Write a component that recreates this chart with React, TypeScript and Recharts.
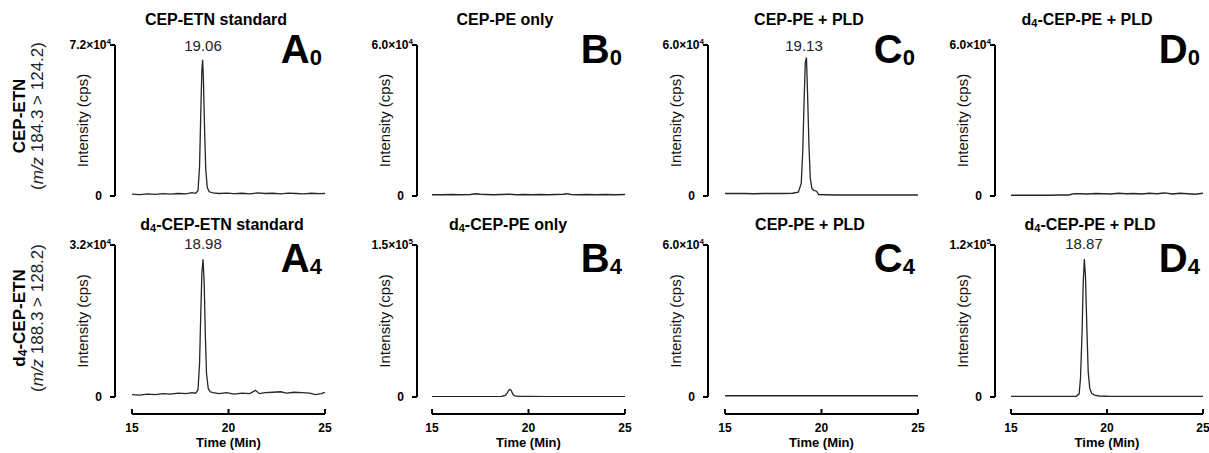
import React from 'react';
import { LineChart, Line, XAxis, YAxis } from 'recharts';

const FONT = '"Liberation Sans", Arial, Helvetica, sans-serif';

// ---- shared axis values ----
const timeDomain: [number, number] = [15, 25];
const timeTicks = [15, 20, 25];

// ---- A0: CEP-ETN standard, CEP-ETN channel ----
const a0Time = [15.0, 15.4, 15.8, 16.2, 16.6, 17.0, 17.4, 17.8, 18.1, 18.3, 18.42, 18.5, 18.56, 18.62, 18.66, 18.7, 18.76, 18.82, 18.9, 19.0, 19.2, 19.5, 19.9, 20.3, 20.7, 21.1, 21.5, 21.9, 22.3, 22.7, 23.1, 23.5, 23.9, 24.3, 24.7, 25.0];
const a0Cps = [900, 700, 1000, 800, 1100, 900, 1200, 1000, 1600, 1300, 2500, 14000, 38000, 60000, 65000, 56000, 32000, 13000, 4000, 2000, 1500, 1200, 1400, 1100, 1300, 1000, 1500, 1200, 1300, 1000, 1400, 1200, 1000, 1300, 1100, 1200];
const a0Max = 72000;

// ---- B0: CEP-PE only ----
const b0Time = [15.0, 15.5, 16.0, 16.5, 17.0, 17.3, 17.5, 17.8, 18.2, 18.6, 19.0, 19.4, 19.8, 20.2, 20.6, 21.0, 21.4, 21.8, 22.0, 22.2, 22.6, 23.0, 23.5, 24.0, 24.5, 25.0];
const b0Cps = [500, 500, 600, 500, 600, 900, 700, 600, 500, 600, 700, 500, 600, 500, 600, 500, 600, 700, 900, 600, 500, 600, 500, 600, 500, 600];
const b0Max = 60000;

// ---- C0: CEP-PE + PLD ----
const c0Time = [15, 15.5, 16, 16.5, 17, 17.5, 18, 18.5, 18.8, 18.95, 19.03, 19.1, 19.16, 19.22, 19.28, 19.35, 19.42, 19.5, 19.6, 19.75, 19.85, 20.2, 20.7, 21.2, 21.7, 22.2, 22.7, 23.2, 23.7, 24.2, 24.7, 25];
const c0Cps = [1000, 1000, 1000, 900, 1000, 1000, 1000, 1100, 1500, 5000, 18000, 38000, 53000, 55000, 40000, 20000, 7000, 3000, 2200, 1900, 600, 500, 400, 400, 400, 400, 400, 400, 400, 400, 400, 400];
const c0Max = 60000;

// ---- D0: d4-CEP-PE + PLD ----
const d0Time = [15, 15.5, 16, 16.5, 17, 17.5, 18, 18.3, 18.6, 19, 19.4, 19.8, 20.2, 20.6, 21, 21.4, 21.8, 22.2, 22.6, 23, 23.4, 23.8, 24.2, 24.6, 25];
const d0Cps = [300, 300, 300, 300, 300, 400, 400, 900, 900, 800, 1000, 900, 800, 1100, 900, 1000, 800, 1100, 900, 1200, 800, 1100, 900, 700, 1100];
const d0Max = 60000;

// ---- A4: d4-CEP-ETN standard, d4 channel ----
const a4Time = [15.0, 15.4, 15.8, 16.2, 16.6, 17.0, 17.4, 17.8, 18.1, 18.3, 18.42, 18.5, 18.56, 18.62, 18.68, 18.74, 18.8, 18.86, 18.95, 19.05, 19.2, 19.5, 19.9, 20.3, 20.7, 21.1, 21.4, 21.6, 21.9, 22.3, 22.7, 23.0, 23.4, 23.8, 24.2, 24.5, 24.8, 25.0];
const a4Cps = [500, 400, 600, 500, 700, 600, 800, 700, 900, 800, 1500, 7000, 17000, 26000, 29000, 24000, 13000, 5000, 1800, 1100, 900, 700, 900, 600, 800, 700, 1400, 700, 900, 1000, 1100, 800, 1000, 900, 800, 500, 700, 1000];
const a4Max = 32000;

// ---- B4: d4-CEP-PE only ----
const b4Time = [15, 16, 17, 18, 18.6, 18.8, 18.9, 19.0, 19.05, 19.1, 19.2, 19.3, 19.5, 20, 21, 22, 23, 24, 25];
const b4Cps = [400, 400, 400, 400, 500, 1500, 4000, 7200, 7500, 6500, 2500, 1000, 600, 500, 400, 400, 400, 400, 400];
const b4Max = 150000;

// ---- C4: CEP-PE + PLD, d4 channel ----
const c4Time = [15, 17, 19, 21, 23, 25];
const c4Cps = [500, 500, 500, 500, 500, 500];
const c4Max = 60000;

// ---- D4: d4-CEP-PE + PLD, d4 channel ----
const d4Time = [15, 16, 17, 18, 18.4, 18.55, 18.62, 18.7, 18.76, 18.82, 18.88, 18.95, 19.02, 19.1, 19.2, 19.35, 19.6, 20, 21, 22, 23, 24, 25];
const d4Cps = [500, 500, 500, 500, 600, 2500, 15000, 50000, 90000, 109000, 95000, 55000, 20000, 7000, 3000, 1500, 800, 600, 500, 500, 500, 500, 500];
const d4Max = 120000;

// ---- text ----
const topTitles = ['CEP-ETN standard', 'CEP-PE only', 'CEP-PE + PLD', 'd4-CEP-PE + PLD'];
const bottomTitles = ['d4-CEP-ETN standard', 'd4-CEP-PE only', 'CEP-PE + PLD', 'd4-CEP-PE + PLD'];
const panelLetters = ['A', 'B', 'C', 'D'];
const peakLabels = [
  { col: 0, row: 0, text: '19.06' },
  { col: 2, row: 0, text: '19.13' },
  { col: 0, row: 1, text: '18.98' },
  { col: 3, row: 1, text: '18.87' },
];

// ---- layout ----
const COLS = [
  { plotLeft: 132, gap: 17, plotW: 193, titleTop: 216, titleBottom: 222, peakX: 203 },
  { plotLeft: 432, gap: 15, plotW: 193, titleTop: 505, titleBottom: 508, peakX: 0 },
  { plotLeft: 725, gap: 17, plotW: 193, titleTop: 809, titleBottom: 810, peakX: 804 },
  { plotLeft: 1011, gap: 16, plotW: 192, titleTop: 1087, titleBottom: 1090, peakX: 1084 },
];
const ROWS = [
  { chartTop: 28, plotTop: 45, plotBottom: 196, showX: false, titleY: 19, peakY: 45, letterY: 63, sub: '0', label: 'CEP-ETN', mz: '184.3 > 124.2', labelY: 116 },
  { chartTop: 230, plotTop: 245, plotBottom: 397, showX: true, titleY: 224, peakY: 243, letterY: 272, sub: '4', label: 'd4-CEP-ETN', mz: '188.3 > 128.2', labelY: 318 },
];
const Y_AXIS_W = 64;
const X_GAP = 17;
const X_AXIS_H = 45;
const RIGHT_PAD = 14;

const sciParts = (v: number) => {
  const e = Math.floor(Math.log10(v));
  return { m: (v / Math.pow(10, e)).toFixed(1), e: String(e) };
};

const YTick = (props: any) => {
  const { x, y, payload } = props;
  const v = payload.value;
  if (v === 0) {
    return (
      <text x={x - 7} y={y} dy={4} textAnchor="end" fontSize={12} fontWeight="bold" fill="#000" fontFamily={FONT}>0</text>
    );
  }
  const { m, e } = sciParts(v);
  return (
    <text x={x + 2} y={y} dy={4} textAnchor="end" fontSize={12} fontWeight="bold" fill="#000" fontFamily={FONT}>
      {m}×10<tspan dy={-5} fontSize={8}>{e}</tspan>
    </text>
  );
};

const XTick = (props: any) => {
  const { x, y, payload } = props;
  return (
    <g>
      <line x1={x} x2={x} y1={y} y2={y - 5} stroke="#000" strokeWidth={2} />
      <text x={x} y={y + 18} textAnchor="middle" fontSize={12} fontWeight="bold" fill="#000" fontFamily={FONT}>{payload.value}</text>
    </g>
  );
};

function Panel({ time, cps, yMax, col, row }: { time: number[]; cps: number[]; yMax: number; col: number; row: number }) {
  const c = COLS[col];
  const r = ROWS[row];
  const data = time.map((t, i) => ({ t, v: cps[i] }));
  const left = c.plotLeft - c.gap - Y_AXIS_W;
  const width = c.gap + Y_AXIS_W + c.plotW + RIGHT_PAD;
  const bottomPad = r.showX ? 0 : 12;
  const height = r.plotBottom - r.chartTop + (r.showX ? X_GAP + X_AXIS_H : bottomPad);
  return (
    <div style={{ position: 'absolute', left, top: r.chartTop }}>
      <LineChart width={width} height={height} data={data} margin={{ top: r.plotTop - r.chartTop, right: RIGHT_PAD, bottom: bottomPad, left: 0 }}>
        {r.showX && (
          <XAxis xAxisId="gap" type="number" dataKey="t" domain={timeDomain} height={X_GAP} axisLine={false} tickLine={false} tick={false} />
        )}
        <XAxis
          xAxisId="t"
          type="number"
          dataKey="t"
          domain={timeDomain}
          ticks={timeTicks}
          interval={0}
          hide={!r.showX}
          height={X_AXIS_H}
          axisLine={{ stroke: '#000', strokeWidth: 2 }}
          tickLine={false}
          tickSize={0}
          tickMargin={0}
          tick={(p: any) => <XTick {...p} />}
          allowDataOverflow
          label={{ value: 'Time (Min)', position: 'insideBottom', offset: 12, style: { fontSize: 13, fontWeight: 'bold', fill: '#000', fontFamily: FONT } }}
        />
        <YAxis yAxisId="gap" type="number" domain={[0, 1]} width={c.gap} axisLine={false} tickLine={false} tick={false} />
        <YAxis
          yAxisId="i"
          type="number"
          domain={[0, yMax]}
          ticks={[0, yMax]}
          interval={0}
          width={Y_AXIS_W}
          axisLine={{ stroke: '#000', strokeWidth: 2 }}
          tickLine={{ stroke: '#000', strokeWidth: 2 }}
          tickSize={5}
          tickMargin={1}
          tick={(p: any) => <YTick {...p} />}
          allowDataOverflow
          label={{ value: 'Intensity (cps)', angle: -90, position: 'center', style: { fontSize: 15, fill: '#111', fontFamily: FONT } }}
        />
        <Line xAxisId="t" yAxisId="i" type="linear" dataKey="v" stroke="#262626" strokeWidth={1.3} dot={false} activeDot={false} isAnimationActive={false} />
      </LineChart>
    </div>
  );
}

const SubText = ({ text, sub = 11 }: { text: string; sub?: number }) => {
  // renders "d4-..." with the 4 as a subscript
  if (text.startsWith('d4')) {
    return (
      <>
        d<tspan dy={4} fontSize={sub}>4</tspan>
        <tspan dy={-4}>{text.slice(2)}</tspan>
      </>
    );
  }
  return <>{text}</>;
};

export default function App() {
  const panels = [
    { time: a0Time, cps: a0Cps, yMax: a0Max, col: 0, row: 0 },
    { time: b0Time, cps: b0Cps, yMax: b0Max, col: 1, row: 0 },
    { time: c0Time, cps: c0Cps, yMax: c0Max, col: 2, row: 0 },
    { time: d0Time, cps: d0Cps, yMax: d0Max, col: 3, row: 0 },
    { time: a4Time, cps: a4Cps, yMax: a4Max, col: 0, row: 1 },
    { time: b4Time, cps: b4Cps, yMax: b4Max, col: 1, row: 1 },
    { time: c4Time, cps: c4Cps, yMax: c4Max, col: 2, row: 1 },
    { time: d4Time, cps: d4Cps, yMax: d4Max, col: 3, row: 1 },
  ];
  return (
    <div style={{ position: 'absolute', left: 0, top: 0, width: 1209, height: 453, background: '#fff', fontFamily: FONT, overflow: 'hidden' }}>
      {panels.map((p, i) => (
        <Panel key={i} {...p} />
      ))}
      <svg width={1209} height={453} style={{ position: 'absolute', left: 0, top: 0, pointerEvents: 'none' }} fontFamily={FONT}>
        {ROWS.map((r, ri) =>
          COLS.map((c, ci) => (
            <g key={`t${ri}${ci}`}>
              <text x={ri === 0 ? c.titleTop : c.titleBottom} y={r.titleY} dominantBaseline="central" textAnchor="middle" fontSize={16} fontWeight="bold" fill="#000">
                <SubText text={(ri === 0 ? topTitles : bottomTitles)[ci]} />
              </text>
              <text x={c.plotLeft + c.plotW - 3} y={r.letterY} textAnchor="end" fontSize={40} fontWeight="bold" fill="#000">
                {panelLetters[ci]}
                <tspan dy={2} fontSize={22}>{r.sub}</tspan>
              </text>
            </g>
          ))
        )}
        {peakLabels.map((p, i) => (
          <text key={`p${i}`} x={COLS[p.col].peakX} y={ROWS[p.row].peakY} dominantBaseline="central" textAnchor="middle" fontSize={15} fill="#222">
            {p.text}
          </text>
        ))}
        {ROWS.map((r, ri) => (
          <g key={`l${ri}`}>
            <text transform={`translate(19, ${r.labelY}) rotate(-90)`} textAnchor="middle" dominantBaseline="central" fontSize={17} fontWeight="bold" fill="#000">
              <SubText text={r.label} sub={12} />
            </text>
            <text transform={`translate(37, ${r.labelY}) rotate(-90)`} textAnchor="middle" dominantBaseline="central" fontSize={17} fill="#222">
              (<tspan fontStyle="italic">m/z</tspan> {r.mz})
            </text>
          </g>
        ))}
      </svg>
    </div>
  );
}
